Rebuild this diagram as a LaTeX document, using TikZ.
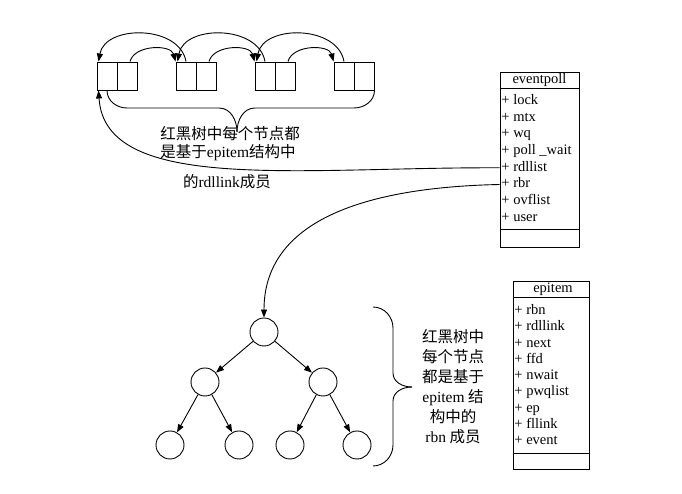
\documentclass[tikz,border=0pt]{standalone}
\usepackage{fontspec}
\setmainfont{Liberation Serif}
\newfontfamily\cjk{Noto Sans CJK SC}
\usetikzlibrary{arrows.meta}

\begin{document}
\begin{tikzpicture}[x=1pt,y=1pt,>={Triangle[length=8pt,width=6pt]},line width=0.9pt]
\fontsize{14.5}{16}\selectfont
\tikzstyle{cell}=[draw,minimum width=20pt,minimum height=28pt,inner sep=0pt]
\tikzstyle{field}=[anchor=west,inner sep=0pt,text height=10pt,text depth=3pt]
\tikzstyle{title}=[inner sep=0pt,text height=10pt,text depth=3pt]
\tikzstyle{rbnode}=[draw,circle,minimum size=28pt,inner sep=0pt]
\tikzstyle{note}=[inner sep=0pt,font=\cjk]
\useasboundingbox (0,0) rectangle (682,494);

% rdllink list
\node[cell] (L1) at (107,418) {};
\node[cell] (R1) at (127,418) {};
\node[cell] (L2) at (186,418) {};
\node[cell] (R2) at (206,418) {};
\node[cell] (L3) at (265,418) {};
\node[cell] (R3) at (285,418) {};
\node[cell] (L4) at (344,418) {};
\node[cell] (R4) at (364,418) {};
\draw[->] ([xshift=3pt]R1.north) to[out=75,in=105] (L2.north west);
\draw[->] ([xshift=3pt]R2.north) to[out=75,in=105] (L3.north west);
\draw[->] ([xshift=3pt]R3.north) to[out=75,in=105] (L4.north west);
\draw[->] (L2.north) to[out=100,in=80,looseness=1.1] ([xshift=2pt]L1.north west);
\draw[->] (L3.north) to[out=100,in=80,looseness=1.1] ([xshift=2pt]L2.north west);
\draw[->] (L4.north) to[out=100,in=80,looseness=1.1] ([xshift=2pt]L3.north west);
\draw (L1.south) to[out=-90,in=180] (127,386) -- (219,386) to[out=0,in=90] (237,362);
\draw (R4.south east) to[out=-90,in=0] (354,386) -- (255,386) to[out=180,in=90] (237,362);
\node[note,anchor=west,align=left,font=\cjk\fontsize{15.5}{18}\selectfont] (NL1) at (160,350)
  {红黑树中每个节点都\\是基于{\rmfamily epitem}结构中};
\node[note,font=\cjk\fontsize{15.5}{18}\selectfont] (NL2) at (227,312) {的{\rmfamily rdllink}成员};

% eventpoll
\node[draw,minimum width=79pt,minimum height=175pt,inner sep=0pt] (EP) at (539.5,334.5) {};
\draw ([yshift=-17pt]EP.north west) -- ([yshift=-17pt]EP.north east);
\draw ([yshift=18pt]EP.south west) -- ([yshift=18pt]EP.south east);
\node[title] (EPt) at (539.5,413.5) {eventpoll};
\node[field] (EPlock) at (501,393) {+ lock};
\node[field] (EPmtx) at (501,376.3) {+ mtx};
\node[field] (EPwq) at (501,359.6) {+ wq};
\node[field] (EPpw) at (501,342.9) {+ poll \_wait};
\node[field] (EPrdl) at (501,326.2) {+ rdllist};
\node[field] (EPrbr) at (501,309.5) {+ rbr};
\node[field] (EPovf) at (501,292.8) {+ ovflist};
\node[field] (EPuser) at (501,276.1) {+ user};

% epitem
\node[draw,minimum width=76pt,minimum height=188pt,inner sep=0pt] (EI) at (551,119) {};
\draw ([yshift=-17pt]EI.north west) -- ([yshift=-17pt]EI.north east);
\draw ([yshift=16pt]EI.south west) -- ([yshift=16pt]EI.south east);
\node[title] (EIt) at (553,204.5) {epitem};
\node[field] (EIrbn) at (514,183) {+ rbn};
\node[field] (EIrdl) at (514,166.7) {+ rdllink};
\node[field] (EInext) at (514,150.4) {+ next};
\node[field] (EIffd) at (514,134.1) {+ ffd};
\node[field] (EInw) at (514,117.8) {+ nwait};
\node[field] (EIpwq) at (514,101.5) {+ pwqlist};
\node[field] (EIep) at (514,85.2) {+ ep};
\node[field] (EIfl) at (514,68.9) {+ fllink};
\node[field] (EIev) at (514,52.6) {+ event};

% red-black tree
\node[rbnode] (T) at (264,162) {};
\node[rbnode] (TL) at (205,112) {};
\node[rbnode] (TR) at (323,112) {};
\node[rbnode] (TLL) at (170,49) {};
\node[rbnode] (TLR) at (239,49) {};
\node[rbnode] (TRL) at (290,49) {};
\node[rbnode] (TRR) at (357,49) {};
\draw[->] (T) -- (TL);
\draw[->] (T) -- (TR);
\draw[->] (TL) -- (TLL);
\draw[->] (TL) -- (TLR);
\draw[->] (TR) -- (TRL);
\draw[->] (TR) -- (TRR);
\draw (373,187) to[out=0,in=90] (393,166) -- (393,121) to[out=-90,in=180] (412,107);
\draw (373,28) to[out=0,in=-90] (393,49) -- (393,93) to[out=90,in=180] (412,107);
\node[note,align=center,font=\cjk\fontsize{15.5}{20}\selectfont] (NR) at (453,107)
  {红黑树中\\每个节点\\都是基于\\{\rmfamily epitem} 结\\构中的\\{\rmfamily rbn} 成员};

% links from eventpoll
\draw[->] (EP.west |- EPrdl.west) .. controls (300,327) and (105,300) .. ([xshift=2pt]L1.south west);
\draw[->] (EP.west |- EPrbr.west) .. controls (380,307) and (264,280) .. (T.north);
\end{tikzpicture}
\end{document}
